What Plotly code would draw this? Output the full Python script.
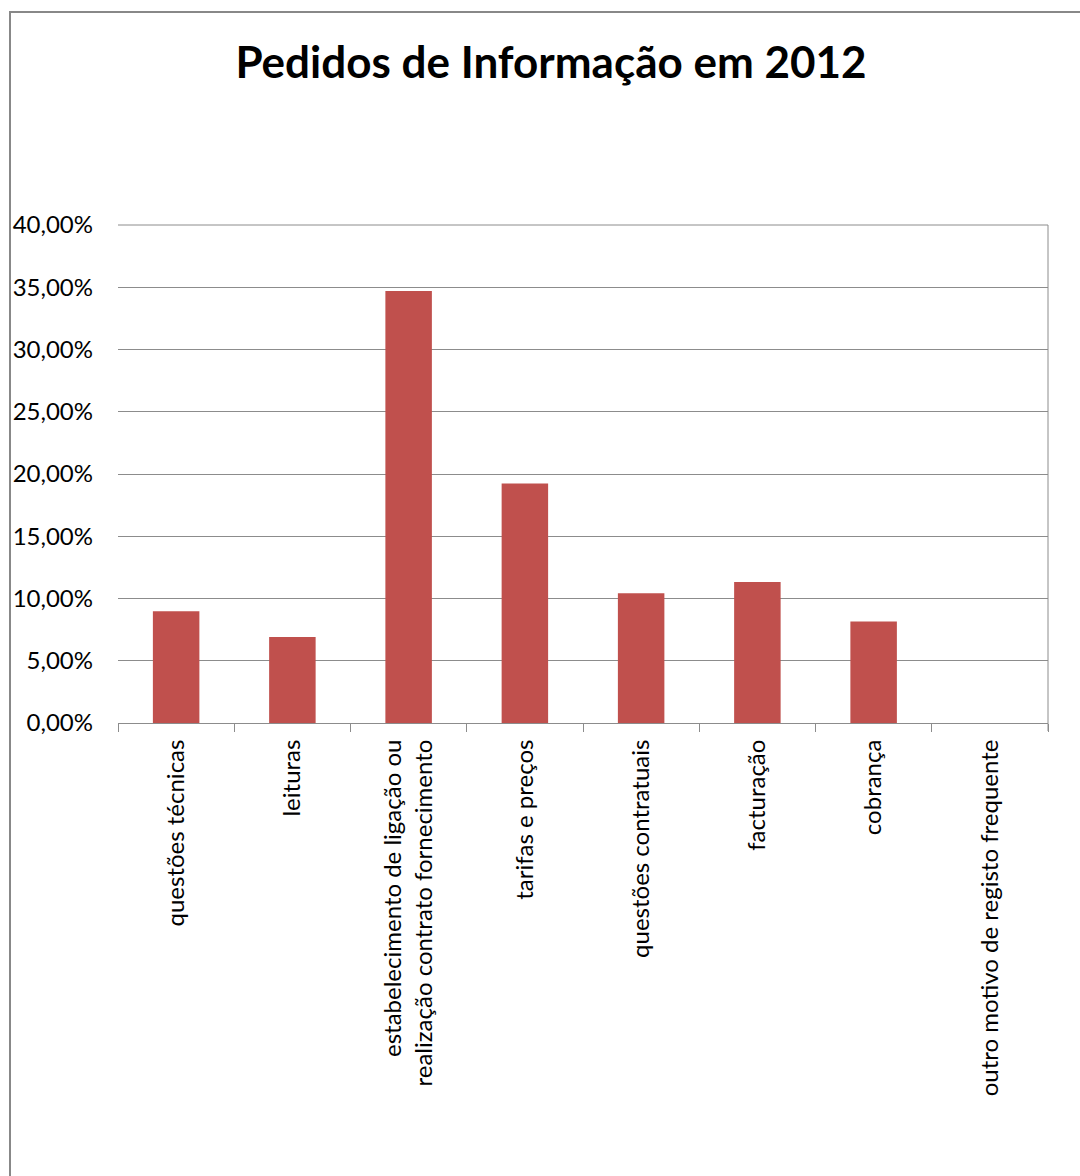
import plotly.graph_objects as go

categories = [
    "questões técnicas",
    "leituras",
    "estabelecimento de ligação ou<br>realização contrato fornecimento",
    "tarifas e preços",
    "questões contratuais",
    "facturação",
    "cobrança",
    "outro motivo de registo frequente",
]
values = [0.0898, 0.0691, 0.3469, 0.1924, 0.1042, 0.1133, 0.0815, 0.0]
tick_vals = [0, 0.05, 0.10, 0.15, 0.20, 0.25, 0.30, 0.35, 0.40]

FONT = "Lato, 'Open Sans', sans-serif"
GRID = "#8c8c8c"

fig = go.Figure(
    go.Bar(x=categories, y=values, marker=dict(color="#C0504D", line=dict(width=0)))
)

W, H = 1080, 1176
L, R, T, B = 118, 32, 225, 453
pw, ph = W - L - R, H - T - B

fig.update_layout(
    width=W, height=H,
    margin=dict(l=L, r=R, t=T, b=B, pad=0),
    paper_bgcolor="white", plot_bgcolor="white",
    bargap=0.6,
    showlegend=False,
    separators=",.",
    font=dict(family=FONT, color="#000000", size=24),
    title=dict(
        text="<b>Pedidos de Informação em 2012</b>",
        x=551 / W, xanchor="center", xref="container",
        y=1 - 63 / H, yanchor="middle", yref="container",
        font=dict(family=FONT, size=44, color="#000000"),
    ),
    xaxis=dict(
        type="category",
        tickangle=-90,
        ticks="outside", ticklen=8, tickcolor=GRID, tickwidth=1,
        tickson="boundaries",
        ticklabelstandoff=6,
        showline=True, linecolor=GRID, linewidth=1,
        showgrid=False,
        tickfont=dict(family=FONT, size=24, color="#000000"),
    ),
    yaxis=dict(
        range=[0, 0.4],
        tickvals=tick_vals,
        tickformat=".2%",
        showgrid=True, gridcolor=GRID, gridwidth=1,
        zeroline=False,
        ticks="", ticklabelstandoff=24,
        showline=False,
        tickfont=dict(family=FONT, size=24, color="#000000"),
    ),
    shapes=[
        dict(type="line", xref="paper", yref="paper", x0=0, x1=1, y0=1, y1=1,
             line=dict(color=GRID, width=1)),
        dict(type="line", xref="paper", yref="paper", x0=1, x1=1, y0=-8 / ph, y1=1,
             line=dict(color=GRID, width=1)),
        # outer chart border
        dict(type="rect", xref="paper", yref="paper",
             x0=(10 - L) / pw, x1=1.2, y0=-1.5, y1=(H - B - 12) / ph,
             line=dict(color="#888888", width=2), layer="below"),
    ],
)

fig.write_html("out.html")
